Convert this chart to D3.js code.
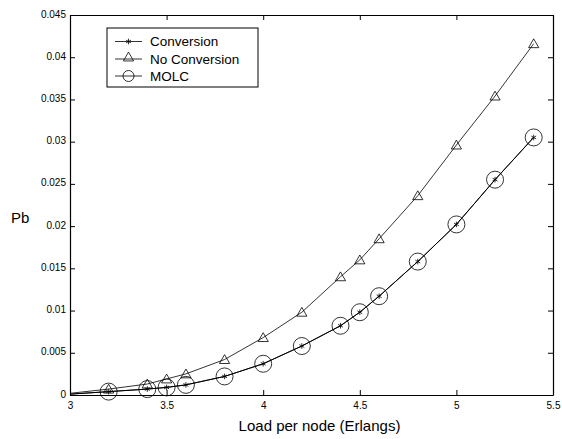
<!DOCTYPE html>
<html>
<head>
<meta charset="utf-8">
<script src="https://cdn.jsdelivr.net/npm/d3@7"></script>
<style>
  body { margin: 0; background: #fff; }
  text { font-family: "Liberation Sans", Arial, sans-serif; fill: #000; }
</style>
</head>
<body>
<div id="chart"></div>
<script>
var width = 562
var height = 439
var margin = {left: 70, right: 9, top: 15, bottom: 44}

// load per node (Erlangs)
var loads = [3, 3.2, 3.4, 3.5, 3.6, 3.8, 4, 4.2, 4.4, 4.5, 4.6, 4.8, 5, 5.2, 5.4]
var conversion = [0.0001, 0.0004, 0.0007, 0.0009, 0.0012, 0.0022, 0.0037, 0.0058, 0.0082, 0.0098, 0.0117, 0.0158, 0.0202, 0.0255, 0.0305]
var noConversion = [0.0002, 0.0007, 0.0013, 0.0019, 0.0025, 0.0042, 0.0068, 0.0098, 0.0140, 0.0160, 0.0185, 0.0236, 0.0296, 0.0354, 0.0416]
var molc = [0.0001, 0.0004, 0.0007, 0.0009, 0.0012, 0.0022, 0.0037, 0.0058, 0.0082, 0.0098, 0.0117, 0.0158, 0.0202, 0.0255, 0.0305]

var xTicks = [3, 3.5, 4, 4.5, 5, 5.5]
var yTicks = [0, 0.005, 0.01, 0.015, 0.02, 0.025, 0.03, 0.035, 0.04, 0.045]
var seriesNames = ["Conversion", "No Conversion", "MOLC"]

var svg = d3.select("#chart")
  .append("svg")
    .attr("width", width)
    .attr("height", height)

var x = d3.scaleLinear().domain([3, 5.5]).range([margin.left, width - margin.right])
var y = d3.scaleLinear().domain([0, 0.045]).range([height - margin.bottom, margin.top])

// axes, MATLAB style: ticks inward on all four sides
var bottom = svg.append("g")
  .attr("transform", "translate(0," + y(0) + ")")
  .call(d3.axisBottom(x).tickValues(xTicks).tickSizeInner(-5).tickSizeOuter(0).tickPadding(8).tickFormat(d3.format("")))
var top = svg.append("g")
  .attr("transform", "translate(0," + y(0.045) + ")")
  .call(d3.axisTop(x).tickValues(xTicks).tickSizeInner(-5).tickSizeOuter(0).tickFormat(""))
var left = svg.append("g")
  .attr("transform", "translate(" + x(3) + ",0)")
  .call(d3.axisLeft(y).tickValues(yTicks).tickSizeInner(-5).tickSizeOuter(0).tickPadding(4).tickFormat(d3.format("")))
var right = svg.append("g")
  .attr("transform", "translate(" + x(5.5) + ",0)")
  .call(d3.axisRight(y).tickValues(yTicks).tickSizeInner(-5).tickSizeOuter(0).tickFormat(""))

svg.selectAll(".domain").attr("stroke", "#000").attr("stroke-width", 1.2)
svg.selectAll(".tick line").attr("stroke", "#000")
svg.selectAll(".tick text").style("font-size", "10px").style("font-family", "Liberation Sans, Arial, sans-serif")
bottom.selectAll(".tick text").attr("dy", "0.6em")
left.selectAll(".tick text").attr("dy", "0.2em")

svg.append("text")
  .attr("x", (x(3) + x(5.5)) / 2 + 8)
  .attr("y", 431)
  .attr("text-anchor", "middle")
  .style("font-size", "15px")
  .text("Load per node (Erlangs)")

svg.append("text")
  .attr("x", 11)
  .attr("y", 223)
  .style("font-size", "15px")
  .text("Pb")

var line = d3.line()
  .x(function(d) { return x(d[0]) })
  .y(function(d) { return y(d[1]) })

function pairs(vals) {
  return loads.map(function(l, i) { return [l, vals[i]] })
}

var plot = svg.append("g")

plot.append("path").datum(pairs(noConversion))
  .attr("d", line).attr("fill", "none").attr("stroke", "#000").attr("stroke-width", 0.8)
plot.append("path").datum(pairs(molc))
  .attr("d", line).attr("fill", "none").attr("stroke", "#000").attr("stroke-width", 0.8)
plot.append("path").datum(pairs(conversion))
  .attr("d", line).attr("fill", "none").attr("stroke", "#000").attr("stroke-width", 1)

var tri = d3.symbol().type(d3.symbolTriangle).size(45)
var star = d3.symbol().type(d3.symbolAsterisk).size(22)

function marked(vals) {
  return pairs(vals).slice(1)
}

plot.selectAll(".tri").data(marked(noConversion)).enter()
  .append("path")
    .attr("class", "tri")
    .attr("d", tri)
    .attr("transform", function(d) { return "translate(" + x(d[0]) + "," + (y(d[1]) + 1) + ")" })
    .attr("fill", "none").attr("stroke", "#000").attr("stroke-width", 0.8)

plot.selectAll(".circ").data(marked(molc)).enter()
  .append("circle")
    .attr("class", "circ")
    .attr("cx", function(d) { return x(d[0]) })
    .attr("cy", function(d) { return y(d[1]) })
    .attr("r", 8.5)
    .attr("fill", "none").attr("stroke", "#000").attr("stroke-width", 0.8)

plot.selectAll(".star").data(marked(conversion)).enter()
  .append("path")
    .attr("class", "star")
    .attr("d", star)
    .attr("transform", function(d) { return "translate(" + x(d[0]) + "," + y(d[1]) + ")" })
    .attr("fill", "none").attr("stroke", "#000").attr("stroke-width", 0.8)

// legend
var legend = svg.append("g")
legend.append("rect")
  .attr("x", 107).attr("y", 28).attr("width", 151).attr("height", 59)
  .attr("fill", "#fff").attr("stroke", "#000").attr("stroke-width", 1)

var rowY = [41.5, 59, 76]
var rows = legend.selectAll(".row").data(seriesNames).enter()
  .append("g")
    .attr("transform", function(d, i) { return "translate(0," + rowY[i] + ")" })

rows.append("line")
  .attr("x1", 115).attr("x2", 142).attr("y1", 0).attr("y2", 0)
  .attr("stroke", "#000").attr("stroke-width", 0.8)
rows.append("text")
  .attr("x", 150).attr("y", 0).attr("dy", "0.36em")
  .style("font-size", "13.5px")
  .text(function(d) { return d })

rows.filter(function(d, i) { return i == 0 }).append("path")
  .attr("d", star).attr("transform", "translate(128.5,0)")
  .attr("fill", "none").attr("stroke", "#000").attr("stroke-width", 0.8)
rows.filter(function(d, i) { return i == 1 }).append("path")
  .attr("d", tri).attr("transform", "translate(128.5,-1)")
  .attr("fill", "none").attr("stroke", "#000").attr("stroke-width", 0.8)
rows.filter(function(d, i) { return i == 2 }).append("circle")
  .attr("cx", 128.5).attr("cy", 0).attr("r", 5.5)
  .attr("fill", "none").attr("stroke", "#000").attr("stroke-width", 0.8)
</script>
</body>
</html>
